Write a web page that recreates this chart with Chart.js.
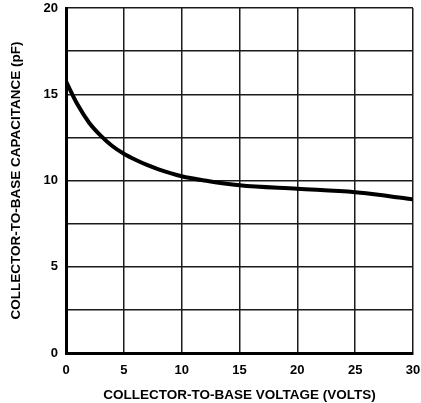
<!DOCTYPE html>
<html>
<head>
<meta charset="utf-8">
<script src="https://cdn.jsdelivr.net/npm/chart.js@4"></script>
<style>
  html, body { margin: 0; padding: 0; background: #fff; }
  #wrap { width: 421px; height: 403px; }
</style>
</head>
<body>
<div id="wrap"><canvas id="capChart" width="421" height="403"></canvas></div>
<script>
/* ---------- DATA ---------- */

const voltage = [0, 1, 2, 3, 4, 5, 6, 7, 8, 10, 12, 15, 20, 25, 27, 30];
const capacitance = [15.75, 14.4, 13.35, 12.6, 12.0, 11.55, 11.2, 10.9, 10.65, 10.25, 10.0, 9.72, 9.52, 9.32, 9.18, 8.9];

const xTicks = [0, 5, 10, 15, 20, 25, 30];
const yLabels = [0, 5, 10, 15, 20];

const xTitle = "COLLECTOR-TO-BASE VOLTAGE (VOLTS)";
const yTitle = "COLLECTOR-TO-BASE CAPACITANCE (pF)";

/* ---------- CHART ---------- */

const font = { family: "'Liberation Sans', Arial, sans-serif", weight: "bold", size: 13 };
const titleFont = { ...font, size: 13.5 };
const gridColor = "#1a1a1a";

const ctx = document.getElementById("capChart").getContext("2d");

new Chart(ctx, {
  type: "line",
  data: {
    datasets: [
      {
        data: voltage.map((v, i) => ({ x: v, y: capacitance[i] })),
        borderColor: "#000",
        borderWidth: 4,
        pointRadius: 0,
        cubicInterpolationMode: "monotone",
        fill: false
      }
    ]
  },
  options: {
    responsive: false,
    animation: false,
    layout: { padding: { top: 8, right: 8, left: 0, bottom: 0 } },
    plugins: { legend: { display: false }, tooltip: { enabled: false } },
    scales: {
      x: {
        type: "linear",
        min: 0,
        max: 30,
        afterBuildTicks: (scale) => { scale.ticks = xTicks.map(v => ({ value: v })); },
        afterFit: (scale) => {
          scale.height = 50;
          scale.paddingLeft = 0;
          scale.paddingRight = 0;
        },
        grid: { color: gridColor, lineWidth: 1.5, drawTicks: false },
        border: { color: "#000", width: 3 },
        ticks: { color: "#000", font, padding: 10, maxRotation: 0 },
        title: { display: true, text: xTitle, color: "#000", font: titleFont, padding: { top: 5, bottom: 0 } }
      },
      y: {
        min: 0,
        max: 20,
        ticks: {
          stepSize: 2.5,
          color: "#000",
          font,
          padding: 8,
          callback: (v) => (yLabels.includes(v) ? v : "")
        },
        afterFit: (scale) => {
          scale.width = 66;
          scale.paddingTop = 0;
          scale.paddingBottom = 0;
        },
        grid: { color: gridColor, lineWidth: 1.5, drawTicks: false },
        border: { color: "#000", width: 3 },
        title: { display: true, text: yTitle, color: "#000", font: titleFont, padding: { top: 8, bottom: 0 } }
      }
    }
  }
});
</script>
</body>
</html>
